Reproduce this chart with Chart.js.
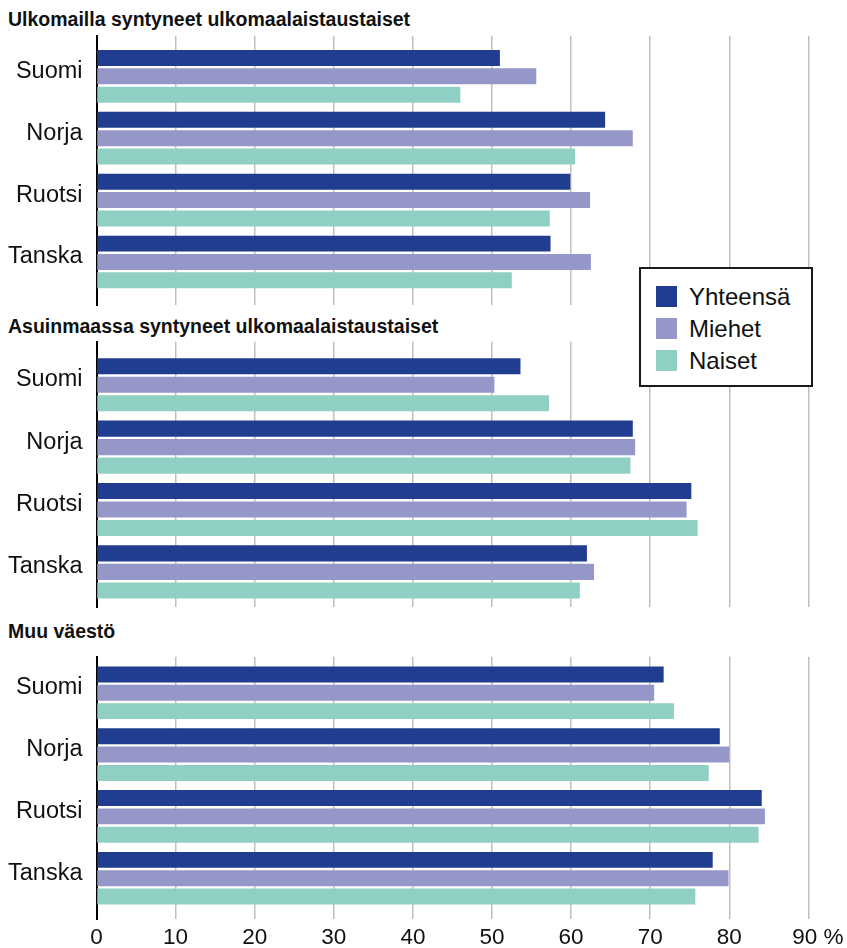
<!DOCTYPE html>
<html lang="fi">
<head>
<meta charset="utf-8">
<title>Työllisyysaste</title>
<script src="https://cdn.jsdelivr.net/npm/chart.js@4.4.1/dist/chart.umd.min.js"></script>
<style>
  html, body { margin: 0; padding: 0; background: #fff; }
  #wrap { position: relative; width: 847px; height: 948px; overflow: hidden;
          font-family: "Liberation Sans", Arial, sans-serif; color: #111; }
  .ptitle { position: absolute; left: 8px; font-weight: bold; font-size: 19.5px;
            line-height: 1; white-space: nowrap; }
  canvas { position: absolute; left: 0; }
  #legend { position: absolute; left: 639px; top: 266.5px; width: 174px; height: 120px;
            box-sizing: border-box; border: 2px solid #1c1c1c; background: #fff; z-index: 5; }
  .lrow { position: absolute; left: 15px; height: 21px; }
  .lsw { position: absolute; left: 0; top: 0; width: 21px; height: 21px; }
  .ltx { position: absolute; left: 33px; top: 0; font-size: 24px; line-height: 21px; white-space: nowrap; }
</style>
</head>
<body>
<div id="wrap"></div>
<script>
// Categories, series and axis ticks
const countries = ['Suomi', 'Norja', 'Ruotsi', 'Tanska'];
const seriesNames = ['Yhteensä', 'Miehet', 'Naiset'];
const seriesColors = ['#213d8f', '#9597c9', '#90cfc3'];
const xTicks = [0, 10, 20, 30, 40, 50, 60, 70, 80, 90];
const panelTitles = [
  'Ulkomailla syntyneet ulkomaalaistaustaiset',
  'Asuinmaassa syntyneet ulkomaalaistaustaiset',
  'Muu väestö'
];

// Ulkomailla syntyneet ulkomaalaistaustaiset (%)
const abroadTotal = [51.0, 64.3, 59.9, 57.4];
const abroadMen   = [55.6, 67.8, 62.4, 62.5];
const abroadWomen = [46.0, 60.5, 57.3, 52.5];

// Asuinmaassa syntyneet ulkomaalaistaustaiset (%)
const nativeTotal = [53.6, 67.8, 75.2, 62.0];
const nativeMen   = [50.3, 68.1, 74.6, 62.9];
const nativeWomen = [57.2, 67.5, 76.0, 61.1];

// Muu väestö (%)
const restTotal = [71.7, 78.8, 84.1, 77.9];
const restMen   = [70.5, 80.0, 84.5, 79.9];
const restWomen = [73.0, 77.4, 83.7, 75.7];

const FONT = '"Liberation Sans", Arial, sans-serif';
const W = 847, H = 948;
const PLOT_LEFT = 96.5, PLOT_RIGHT = 808.4;

// Page layout of the three panels (plot top/bottom in page pixels)
const panels = [
  { title: panelTitles[0], titleTop: 10.2,  series: [abroadTotal, abroadMen, abroadWomen],
    top: 35.7,  bottom: 305,   yMin: -0.656, yMax: 3.695, showX: false },
  { title: panelTitles[1], titleTop: 316.8, series: [nativeTotal, nativeMen, nativeWomen],
    top: 341.7, bottom: 607,   yMin: -0.689, yMax: 3.562, showX: false },
  { title: panelTitles[2], titleTop: 621.5, series: [restTotal, restMen, restWomen],
    top: 656.7, bottom: 919.3, yMin: -0.584, yMax: 3.665, showX: true }
];

const wrap = document.getElementById('wrap');

panels.forEach(p => {
  const t = document.createElement('div');
  t.className = 'ptitle';
  t.style.top = p.titleTop + 'px';
  t.textContent = p.title;
  wrap.appendChild(t);

  const cTop = Math.floor(p.top) - 4;
  const cBottom = p.showX ? H : Math.ceil(p.bottom) + 4;
  const cv = document.createElement('canvas');
  cv.width = W;
  cv.height = cBottom - cTop;
  cv.style.top = cTop + 'px';
  wrap.appendChild(cv);
  const xHeight = cBottom - p.bottom;

  new Chart(cv, {
    type: 'bar',
    data: {
      datasets: p.series.map((vals, k) => ({
        label: seriesNames[k],
        data: vals.map((v, i) => ({ x: v, y: i })),
        backgroundColor: seriesColors[k],
        borderWidth: 0,
        categoryPercentage: 0.89,
        barPercentage: 0.87
      }))
    },
    options: {
      indexAxis: 'y',
      responsive: false,
      animation: false,
      events: [],
      layout: { padding: { top: p.top - cTop, right: W - PLOT_RIGHT, left: 0, bottom: 0 } },
      plugins: { legend: { display: false }, tooltip: { enabled: false } },
      scales: {
        x: {
          type: 'linear',
          min: xTicks[0],
          max: xTicks[xTicks.length - 1],
          offset: false,
          afterFit: s => { s.height = xHeight; s.paddingLeft = 0; s.paddingRight = 0; },
          afterBuildTicks: s => { s.ticks = xTicks.map(v => ({ value: v })); },
          border: { display: false },
          grid: {
            offset: false,
            drawTicks: false,
            lineWidth: 1.5,
            color: c => (c.tick && c.tick.value === 0) ? 'rgba(0,0,0,0)' : '#bfbfbf'
          },
          ticks: {
            display: p.showX,
            padding: 5,
            autoSkip: false,
            maxRotation: 0,
            color: '#111',
            font: { family: FONT, size: 22.5 },
            callback: v => v === xTicks[xTicks.length - 1] ? '   ' + v + ' %' : String(v)
          }
        },
        y: {
          type: 'linear',
          reverse: true,
          min: p.yMin,
          max: p.yMax,
          offset: false,
          bounds: 'data',
          afterDataLimits: s => { s.min = p.yMin; s.max = p.yMax; },
          afterFit: s => { s.width = PLOT_LEFT; s.paddingTop = 0; s.paddingBottom = 0; },
          afterBuildTicks: s => { s.ticks = countries.map((c, i) => ({ value: i })); },
          border: { display: true, color: '#000', width: 2 },
          grid: { display: true, offset: false, drawOnChartArea: false, drawTicks: false, color: 'rgba(0,0,0,0)' },
          ticks: {
            autoSkip: false,
            padding: 14,
            labelOffset: -5,
            color: '#111',
            font: { family: FONT, size: 23.5 },
            callback: v => countries[Math.round(v)]
          }
        }
      }
    }
  });
});

// Legend box
const legend = document.createElement('div');
legend.id = 'legend';
seriesNames.forEach((name, k) => {
  const row = document.createElement('div');
  row.className = 'lrow';
  row.style.top = (17.5 + k * 32) + 'px';
  const sw = document.createElement('div');
  sw.className = 'lsw';
  sw.style.background = seriesColors[k];
  const tx = document.createElement('div');
  tx.className = 'ltx';
  tx.textContent = name;
  row.appendChild(sw);
  row.appendChild(tx);
  legend.appendChild(row);
});
wrap.appendChild(legend);
</script>
</body>
</html>
